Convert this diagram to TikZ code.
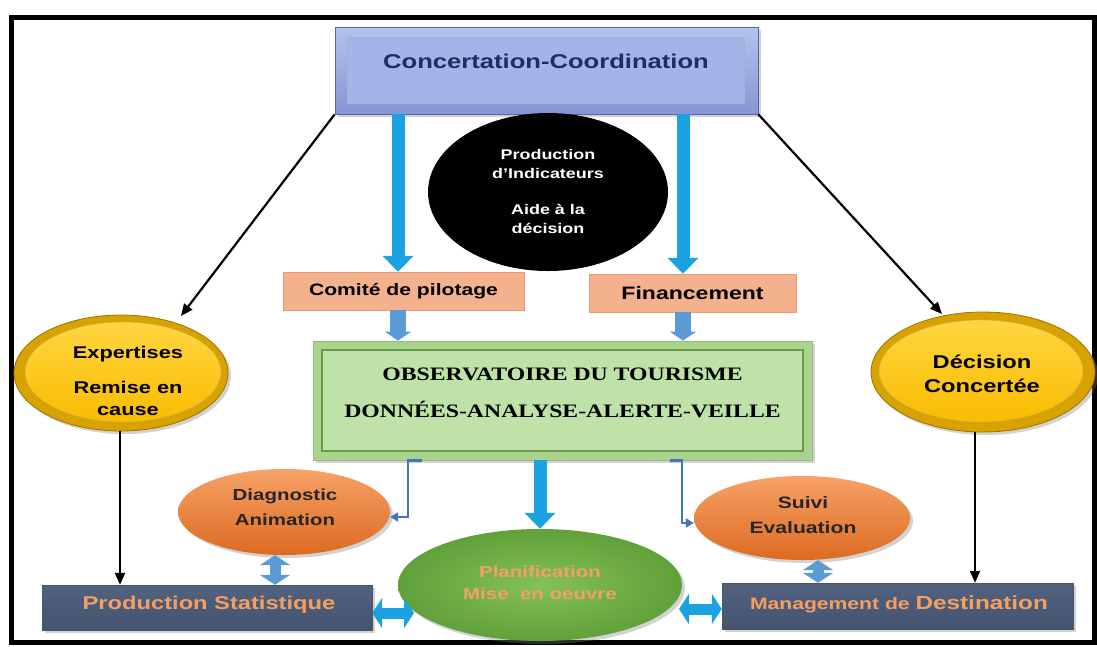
\documentclass[tikz,border=0pt]{standalone}
\usepackage{fontspec}
\setmainfont{Liberation Sans}[FakeStretch=1.28]
\newfontfamily\obsfont{Liberation Serif}[FakeStretch=1.25]
\usetikzlibrary{arrows.meta,shapes.geometric,calc,shadows}
\definecolor{navy}{HTML}{1C2F62}
\definecolor{cctop}{HTML}{B3C2EE}
\definecolor{ccbot}{HTML}{8497D4}
\definecolor{ccin}{HTML}{A3B4E8}
\definecolor{ccedge}{HTML}{55649E}
\definecolor{salmon}{HTML}{F4B18E}
\definecolor{salmonedge}{HTML}{E89A70}
\definecolor{obsout}{HTML}{A9D48C}
\definecolor{obsin}{HTML}{BFE2A8}
\definecolor{obsedge}{HTML}{6A9A4E}
\definecolor{yring}{HTML}{D8A200}
\definecolor{yringedge}{HTML}{9C7400}
\definecolor{ytop}{HTML}{FFD640}
\definecolor{ybot}{HTML}{F9BC00}
\definecolor{otop}{HTML}{F6A266}
\definecolor{obot}{HTML}{DD6A22}
\definecolor{gin}{HTML}{84C158}
\definecolor{gout}{HTML}{61A139}
\definecolor{slatetop}{HTML}{52627F}
\definecolor{slatebot}{HTML}{44546F}
\definecolor{ptext}{HTML}{F5A060}
\definecolor{arrcyan}{HTML}{1AA3E0}
\definecolor{steel}{HTML}{5B9BD5}
\definecolor{elbowblue}{HTML}{4472C4}
\tikzset{
  blk/.style={draw=black, line width=2.2pt, -{Triangle[length=12pt,width=10pt]}},
  bigarr/.style={draw=arrcyan, line width=13pt, -{Triangle[width=30pt,length=16pt]}},
  smallarr/.style={draw=steel, line width=16pt, -{Triangle[width=26pt,length=9pt]}},
  dblarr/.style={line width=11pt, {Triangle[width=30pt,length=10pt]}-{Triangle[width=30pt,length=10pt]}},
  elbow/.style={draw=elbowblue, line width=2.5pt, -{Triangle[width=9pt,length=8pt]}},
  shad/.style={drop shadow={opacity=0.35, shadow xshift=3pt, shadow yshift=-3pt}},
  salmonbox/.style={rectangle, fill=salmon, draw=salmonedge, inner sep=0pt, font=\bfseries\fontsize{16.5}{20}\selectfont},
  slatebox/.style={rectangle, top color=slatetop, bottom color=slatebot, draw=slatebot, inner sep=0pt, shad},
  yring/.style={ellipse, fill=yring, draw=yringedge, line width=0.8pt, inner sep=0pt, shad},
  ycore/.style={ellipse, top color=ytop, bottom color=ybot, draw=yringedge!60, inner sep=0pt},
  oell/.style={ellipse, top color=otop, bottom color=obot, inner sep=0pt, shad},
  txt/.style={align=center, inner sep=0pt, font=\bfseries},
}
\begin{document}
\begin{tikzpicture}[x=1pt,y=-1pt]
\useasboundingbox (0,0) rectangle (1097,646);
\fill[white] (0,0) rectangle (1097,646);
\draw[line width=5pt] (11,17) rectangle (1094,642);

% top box
\node[rectangle, top color=cctop, bottom color=ccbot, draw=ccedge, line width=0.8pt,
      minimum width=423pt, minimum height=87pt, inner sep=0pt, shad] (cc) at (546.5,70.5) {};
\node[rectangle, fill=ccin, draw=ccedge!50, minimum width=397pt, minimum height=66pt, inner sep=0pt] (ccinner) at (545.5,70) {};
\node[txt, text=navy, font=\bfseries\fontsize{20}{24}\selectfont] (cctxt) at (546,61) {Concertation-Coordination};

% black ellipse
\node[ellipse, fill=black, minimum width=240pt, minimum height=158pt, inner sep=0pt] (ind) at (548,192) {};
\node[txt, text=white, font=\bfseries\fontsize{14}{19}\selectfont] (indtxt) at (548,191.5)
  {Production\\d’Indicateurs\\[17pt]Aide à la\\décision};

% salmon boxes
\node[salmonbox, minimum width=241pt, minimum height=38pt] (comite) at (403.5,291) {Comité de pilotage};
\node[salmonbox, minimum width=207pt, minimum height=38pt, font=\bfseries\fontsize{18}{22}\selectfont] (fin) at (692.5,293) {Financement};

% observatoire
\node[rectangle, fill=obsout, draw=obsedge!70, line width=0.8pt, minimum width=499pt, minimum height=119pt, inner sep=0pt, shad] (obs) at (562.5,400.5) {};
\node[rectangle, fill=obsin, draw=obsedge, line width=1.2pt, minimum width=481pt, minimum height=101pt, inner sep=0pt] (obsinner) at (562.5,400.5) {};
\node[txt, font=\obsfont\bfseries\fontsize{19}{37}\selectfont] (obstxt) at (562.5,392.5)
  {OBSERVATOIRE DU TOURISME\\DONNÉES-ANALYSE-ALERTE-VEILLE};

% yellow ellipses
\node[yring, minimum width=214pt, minimum height=116pt] (exp) at (121,373) {};
\node[ycore, minimum width=196pt, minimum height=100pt] (expcore) at (123,372) {};
\node[txt, font=\bfseries\fontsize{17}{22}\selectfont] (exptxt) at (128,380.5) {Expertises\\[13pt]Remise en\\cause};

\node[yring, minimum width=224pt, minimum height=120pt] (dec) at (983,372) {};
\node[ycore, minimum width=204pt, minimum height=102pt] (deccore) at (981,371) {};
\node[txt, font=\bfseries\fontsize{18.5}{24}\selectfont] (dectxt) at (982,374) {Décision\\Concertée};

% orange ellipses
\node[oell, minimum width=212pt, minimum height=86pt] (diag) at (284,512) {};
\node[txt, text=black!85, font=\bfseries\fontsize{16}{25}\selectfont] (diagtxt) at (285,507.5) {Diagnostic\\Animation};
\node[oell, minimum width=216pt, minimum height=84pt] (suivi) at (802,518) {};
\node[txt, text=black!85, font=\bfseries\fontsize{16.5}{25}\selectfont] (suivitxt) at (803,515.5) {Suivi\\Evaluation};

% green ellipse
\node[ellipse, inner color=gin, outer color=gout, minimum width=284pt, minimum height=112pt, inner sep=0pt, shad] (plan) at (540,585) {};
\node[txt, text=ptext, font=\bfseries\fontsize{16}{22}\selectfont] (plantxt) at (540,583) {Planification\\Mise~ en oeuvre};

% bottom boxes
\node[slatebox, minimum width=330pt, minimum height=45pt] (ps) at (207,607.5) {};
\node[txt, text=ptext, font=\bfseries\fontsize{18.5}{22}\selectfont] (pstxt) at (209,605) {Production Statistique};
\node[slatebox, minimum width=351pt, minimum height=46pt] (md) at (897.5,606) {};
\node[txt, text=ptext] (mdtxt) at (899,604) {{\fontsize{16.5}{20}\selectfont Management de }{\fontsize{19}{22}\selectfont Destination}};

% helper coordinates
\coordinate (la) at (398,0);
\coordinate (ra) at (683,0);
\coordinate (el) at (408,0);
\coordinate (er) at (682,0);
\coordinate (dl) at (275,0);
\coordinate (dr) at (818,0);
\coordinate (h1) at (414,613);
\coordinate (h2) at (679,609);
\coordinate (expin) at (181,316);
\coordinate (decin) at (942,314);
\coordinate (ex) at (120,0);
\coordinate (dx) at (975,0);

% black arrows
\draw[blk] (cc.south west) -- (expin);
\draw[blk] (cc.south east) -- (decin);
\draw[blk] (exp.south -| ex) -- (ps.north -| ex);
\draw[blk] (dec.south -| dx) -- (md.north -| dx);

% blue arrows
\draw[bigarr] (cc.south -| la) -- (comite.north -| la);
\draw[bigarr] (cc.south -| ra) -- (fin.north -| ra);
\draw[smallarr] (comite.south -| la) -- (obs.north -| la);
\draw[smallarr] (fin.south -| ra) -- (obs.north -| ra);
\draw[bigarr] (obs.south -| plan.north) -- (plan.north);

\draw[elbow] ($(obs.south -| el)+(14,0)$) -- (obs.south -| el) |- ([yshift=-5pt]diag.east);
\draw[elbow] ($(obs.south -| er)+(-12,0)$) -- (obs.south -| er) |- ([yshift=-5pt]suivi.west);

\draw[dblarr, draw=steel] (diag.south -| dl) -- (ps.north -| dl);
\draw[dblarr, draw=steel] (suivi.south -| dr) -- (md.north -| dr);
\draw[dblarr, draw=arrcyan] (ps.east |- h1) -- (h1);
\draw[dblarr, draw=arrcyan] (h2) -- (md.west |- h2);
\end{tikzpicture}
\end{document}
